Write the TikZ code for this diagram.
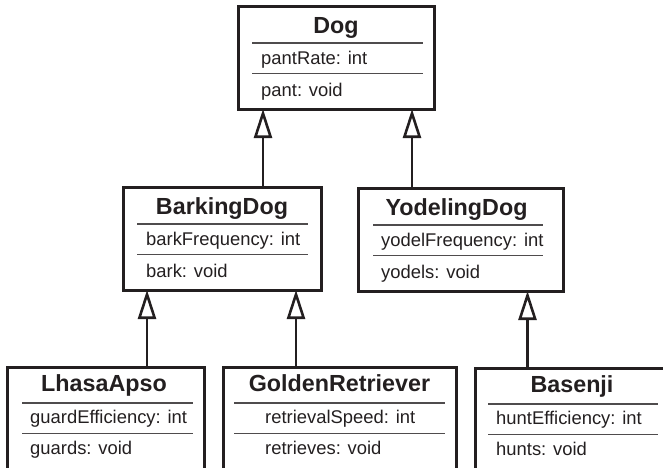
\documentclass[tikz,border=0pt]{standalone}
\usepackage{fontspec}
\setmainfont{Liberation Sans}
\usepackage{tikz}
\usetikzlibrary{arrows.meta}
\definecolor{ink}{RGB}{35,31,32}

\begin{document}
\begin{tikzpicture}[
  x=1pt, y=-1pt,
  classbox/.style={
    draw=ink,
    line width=3pt,
    anchor=north,
    minimum height=103pt,
    inner sep=0pt,
    outer sep=0pt
  },
  classname/.style={anchor=base, inner sep=0pt, text=ink,
    font=\fontsize{23.3}{26}\selectfont\bfseries},
  member/.style={anchor=base west, inner sep=0pt, text=ink,
    font=\fontsize{18.4}{21}\selectfont},
  divider/.style={draw=ink!80, line width=1.6pt},
  inherit/.style={draw=ink, line width=2.6pt,
    -{Triangle[open, length=29pt, width=18pt]}}
]
\useasboundingbox (0,0) rectangle (663,467);
\clip (0,0) rectangle (663,467);

% base class
\node[classbox, minimum width=196pt] (dog) at (336,6) {};
\node[classname] (dog-name) at ([yshift=-27.5pt]dog.north) {Dog};
\draw[divider] ([xshift=14pt, yshift=-37pt]dog.north west) -- ([xshift=-11pt, yshift=-37pt]dog.north east);
\node[member] (dog-attr) at ([xshift=23pt, yshift=-58.5pt]dog.north west) {pantRate: int};
\draw[divider] ([xshift=14pt, yshift=-67.5pt]dog.north west) -- ([xshift=-11pt, yshift=-67.5pt]dog.north east);
\node[member] (dog-op) at ([xshift=23pt, yshift=-90.5pt]dog.north west) {pant: void};

% second level
\node[classbox, minimum width=198pt] (barking) at (222,187) {};
\node[classname] (barking-name) at ([yshift=-27.5pt]barking.north) {BarkingDog};
\draw[divider] ([xshift=14pt, yshift=-37pt]barking.north west) -- ([xshift=-13pt, yshift=-37pt]barking.north east);
\node[member] (barking-attr) at ([xshift=23pt, yshift=-58.5pt]barking.north west) {barkFrequency: int};
\draw[divider] ([xshift=14pt, yshift=-67.5pt]barking.north west) -- ([xshift=-13pt, yshift=-67.5pt]barking.north east);
\node[member] (barking-op) at ([xshift=23pt, yshift=-90.5pt]barking.north west) {bark: void};

\node[classbox, minimum width=205pt] (yodeling) at (460.5,188) {};
\node[classname] (yodeling-name) at ([xshift=-4pt, yshift=-27.5pt]yodeling.north) {YodelingDog};
\draw[divider] ([xshift=15pt, yshift=-37pt]yodeling.north west) -- ([xshift=-20pt, yshift=-37pt]yodeling.north east);
\node[member] (yodeling-attr) at ([xshift=23pt, yshift=-58.5pt]yodeling.north west) {yodelFrequency: int};
\draw[divider] ([xshift=15pt, yshift=-67.5pt]yodeling.north west) -- ([xshift=-20pt, yshift=-67.5pt]yodeling.north east);
\node[member] (yodeling-op) at ([xshift=23pt, yshift=-90.5pt]yodeling.north west) {yodels: void};

% third level
\node[classbox, minimum width=197pt] (lhasa) at (105.5,367) {};
\node[classname] (lhasa-name) at ([xshift=-1.5pt, yshift=-24pt]lhasa.north) {LhasaApso};
\draw[divider] ([xshift=15pt, yshift=-36pt]lhasa.north west) -- ([xshift=-11pt, yshift=-36pt]lhasa.north east);
\node[member] (lhasa-attr) at ([xshift=23pt, yshift=-56pt]lhasa.north west) {guardEfficiency: int};
\draw[divider] ([xshift=15pt, yshift=-66.5pt]lhasa.north west) -- ([xshift=-11pt, yshift=-66.5pt]lhasa.north east);
\node[member] (lhasa-op) at ([xshift=23pt, yshift=-87.5pt]lhasa.north west) {guards: void};

\node[classbox, minimum width=233pt] (golden) at (339.5,367) {};
\node[classname] (golden-name) at ([yshift=-24pt]golden.north) {GoldenRetriever};
\draw[divider] ([xshift=11pt, yshift=-36pt]golden.north west) -- ([xshift=-11pt, yshift=-36pt]golden.north east);
\node[member] (golden-attr) at ([xshift=42pt, yshift=-56pt]golden.north west) {retrievalSpeed: int};
\draw[divider] ([xshift=11pt, yshift=-66.5pt]golden.north west) -- ([xshift=-11pt, yshift=-66.5pt]golden.north east);
\node[member] (golden-op) at ([xshift=42pt, yshift=-87.5pt]golden.north west) {retrieves: void};

\node[classbox, minimum width=194pt] (basenji) at (572,368) {};
\node[classname] (basenji-name) at ([yshift=-24pt]basenji.north) {Basenji};
\draw[divider] ([xshift=13pt, yshift=-36pt]basenji.north west) -- ([xshift=-11pt, yshift=-36pt]basenji.north east);
\node[member] (basenji-attr) at ([xshift=21pt, yshift=-56pt]basenji.north west) {huntEfficiency: int};
\draw[divider] ([xshift=13pt, yshift=-66.5pt]basenji.north west) -- ([xshift=-11pt, yshift=-66.5pt]basenji.north east);
\node[member] (basenji-op) at ([xshift=21pt, yshift=-87.5pt]basenji.north west) {hunts: void};

% generalisations
\draw[inherit] ([xshift=-73pt]dog.south |- barking.north) -- ([xshift=-73pt]dog.south);
\draw[inherit] ([xshift=76pt]dog.south |- yodeling.north) -- ([xshift=76pt]dog.south);
\draw[inherit] ([xshift=-75pt]barking.south |- lhasa.north) -- ([xshift=-75pt]barking.south);
\draw[inherit] ([xshift=74pt]barking.south |- golden.north) -- ([xshift=74pt]barking.south);
\draw[inherit] ([xshift=67pt]yodeling.south |- basenji.north) -- ([xshift=67pt]yodeling.south);

\end{tikzpicture}
\end{document}
